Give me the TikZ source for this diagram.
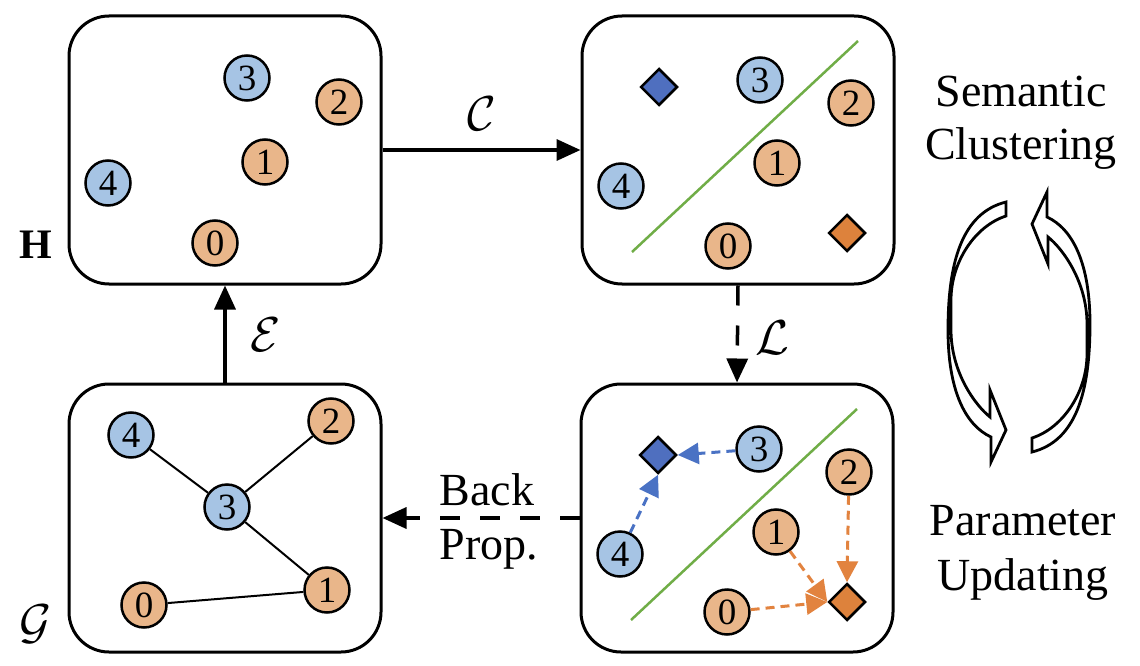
\RequirePackage{fix-cm}
\documentclass[tikz,border=0pt]{standalone}
\usepackage{fontspec}
\setmainfont{Liberation Serif}
\usetikzlibrary{arrows.meta,shapes.geometric}
\definecolor{cblue}{HTML}{A6C4E4}
\definecolor{corange}{HTML}{E9B68A}
\definecolor{dblue}{HTML}{4F6FBF}
\definecolor{dorange}{HTML}{DD823C}
\definecolor{ablue}{HTML}{4A72C4}
\definecolor{aorange}{HTML}{E2833F}
\definecolor{cgreen}{HTML}{70AD47}
\newcommand{\hollowloop}{%
  (1006,202) .. controls (962,213) and (948,262) .. (948,330)
  .. controls (948,390) and (965,425) .. (991,437)
  -- (991,462) -- (1006,430) -- (990,390) -- (990,417)
  .. controls (975,405) and (951,372) .. (951,330)
  -- (951,300) .. controls (951,262) and (975,226) .. (1006,216) -- cycle}
\begin{document}
\begin{tikzpicture}[x=1pt,y=-1pt,
  panel/.style={draw, line width=3pt, rounded corners=40pt, minimum width=312pt, minimum height=268pt, inner sep=0pt},
  bn/.style={circle, draw, line width=2.5pt, fill=cblue, minimum size=45pt, inner sep=0pt, font=\fontsize{37}{37}\selectfont},
  on/.style={bn, fill=corange},
  dia/.style={diamond, draw, line width=2.5pt, minimum width=37pt, minimum height=37pt, inner sep=0pt},
  mainarrow/.style={line width=3.5pt, -{Triangle[length=24pt,width=21pt]}},
  dasharrow/.style={mainarrow, dash pattern=on 20pt off 20pt},
  smallarrow/.style={line width=3pt, dash pattern=on 9pt off 6pt, -{Triangle[length=21pt,width=21pt]}},
  edge/.style={line width=2pt},
  sepline/.style={cgreen, line width=2.5pt},
  lbl/.style={font=\fontsize{46}{46}\selectfont, inner sep=0pt},
  mlbl/.style={font=\fontsize{49}{49}\selectfont, inner sep=0pt},
  hollow/.style={draw, fill=white, line width=2.8pt, line join=miter}
]
\useasboundingbox (0,0) rectangle (1140,666);

% panels
\node[panel] (tl) at (225,150) {};
\node[panel] (tr) at (738,150) {};
\node[panel] (br) at (737,518) {};
\node[panel] (bl) at (225,518) {};

% main connectors
\draw[mainarrow] (tl.east) -- (tr.west);
\draw[mainarrow] (bl.north) -- (tl.south);
\draw[dasharrow] (tr.south) -- (br.north);
\draw[dasharrow] (br.west) -- (bl.east);

\node[mlbl] (lc) at (482,114) {$\mathcal{C}$};
\node[mlbl] (le) at (266,335) {$\mathcal{E}$};
\node[mlbl] (ll) at (772,338) {$\mathcal{L}$};
\node[mlbl] (lg) at (36,624) {$\mathcal{G}$};
\node[font=\fontsize{42}{42}\selectfont\bfseries, inner sep=0pt] (lh) at (36,245) {H};

\node[lbl, anchor=base] (back) at (487,505) {Back};
\node[lbl, anchor=base] (prop) at (489,559) {Prop.};

% top-left: embeddings
\node[bn] (a3) at (247,78) {3};
\node[on] (a2) at (339,102) {2};
\node[on] (a1) at (265,162) {1};
\node[bn] (a4) at (108,183) {4};
\node[on] (a0) at (215,243) {0};

% top-right: clustering
\draw[sepline] (632,252) -- (858,41);
\node[dia, fill=dblue] (tdb) at (659,87) {};
\node[dia, fill=dorange] (tdo) at (847,233) {};
\node[bn] (t3) at (760,80) {3};
\node[on] (t2) at (851,103) {2};
\node[on] (t1) at (777,163) {1};
\node[bn] (t4) at (621,186) {4};
\node[on] (t0) at (728,246) {0};

% bottom-right: loss
\draw[sepline] (631,620) -- (857,409);
\node[dia, fill=dblue] (rdb) at (658,455) {};
\node[dia, fill=dorange] (rdo) at (847,602) {};
\node[bn] (r3) at (759,449) {3};
\node[on] (r2) at (849,472) {2};
\node[on] (r1) at (776,532) {1};
\node[bn] (r4) at (620,554) {4};
\node[on] (r0) at (727,612) {0};
\draw[smallarrow, ablue] (r3) -- (rdb.east);
\draw[smallarrow, ablue] (r4) -- (rdb.south);
\draw[smallarrow, aorange] (r2) -- (rdo.north);
\draw[smallarrow, aorange] (r1) -- (rdo.west);
\draw[smallarrow, aorange] (r0) -- (rdo.west);

% bottom-left: graph
\node[bn] (b4) at (131,435) {4};
\node[on] (b2) at (331,421) {2};
\node[bn] (b3) at (227,507) {3};
\node[on] (b1) at (327,590) {1};
\node[on] (b0) at (144,605) {0};
\draw[edge] (b4) -- (b3);
\draw[edge] (b3) -- (b2);
\draw[edge] (b3) -- (b1);
\draw[edge] (b0) -- (b1);

% right: cycle
\node[lbl, anchor=base] (sem1) at (1021,107) {Semantic};
\node[lbl, anchor=base] (sem2) at (1021,160) {Clustering};
\node[lbl, anchor=base] (par1) at (1023,535) {Parameter};
\node[lbl, anchor=base] (par2) at (1023,590) {Updating};
\path[hollow] \hollowloop;
\begin{scope}[rotate around={180:(1019,327)}]
\path[hollow] \hollowloop;
\end{scope}
\end{tikzpicture}
\end{document}
